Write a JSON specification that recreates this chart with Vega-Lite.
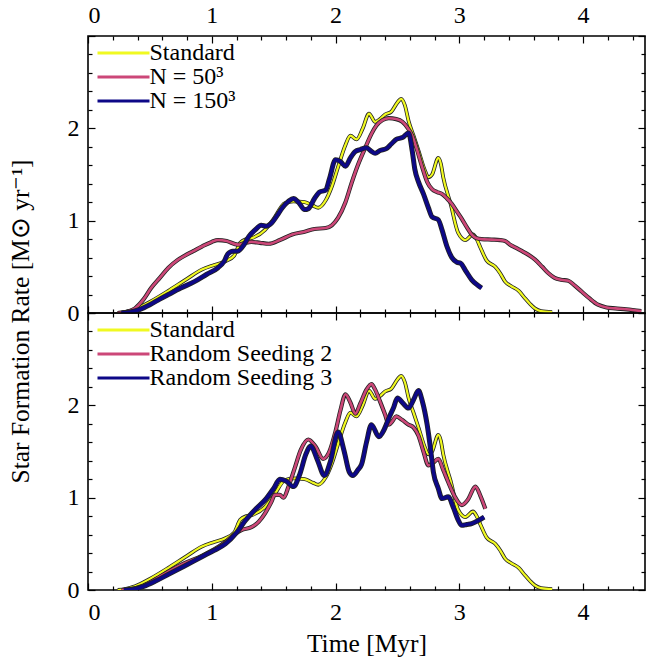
{
  "$schema": "https://vega.github.io/schema/vega-lite/v6.json",
  "padding": {"left": 7, "top": 2, "right": 5, "bottom": 2},
  "background": "white",
  "config": {
    "view": {"stroke": "black", "strokeWidth": 1.6},
    "font": "Liberation Serif",
    "axis": {"grid": false, "domain": false, "tickColor": "black", "tickWidth": 1.2, "labelFont": "Liberation Serif", "labelFontSize": 24, "labelColor": "black", "titleFont": "Liberation Serif", "titleFontSize": 25.5, "titleFontWeight": "normal", "titleColor": "black"},
    "legend": {"labelFont": "Liberation Serif", "labelFontSize": 24, "labelColor": "black", "labelLimit": 400, "title": null, "orient": "none", "legendX": 23.5, "padding": 0, "symbolType": "M-6.5,0H6.5", "symbolSize": 64, "symbolStrokeWidth": 3, "labelOffset": 14, "rowPadding": -3}
  },
  "datasets": {
    "sfr": [
      {"s":"Standard","t":0.24,"v":0},{"s":"Standard","t":0.30,"v":0.01},{"s":"Standard","t":0.38,"v":0.04},{"s":"Standard","t":0.5,"v":0.12},{"s":"Standard","t":0.65,"v":0.24},{"s":"Standard","t":0.8,"v":0.37},{"s":"Standard","t":0.92,"v":0.47},{"s":"Standard","t":1.02,"v":0.52},{"s":"Standard","t":1.11,"v":0.56},{"s":"Standard","t":1.18,"v":0.62},{"s":"Standard","t":1.23,"v":0.76},{"s":"Standard","t":1.28,"v":0.8},{"s":"Standard","t":1.32,"v":0.81},{"s":"Standard","t":1.43,"v":0.9},{"s":"Standard","t":1.5,"v":1.02},{"s":"Standard","t":1.59,"v":1.19},{"s":"Standard","t":1.66,"v":1.21},{"s":"Standard","t":1.75,"v":1.2},{"s":"Standard","t":1.82,"v":1.16},{"s":"Standard","t":1.86,"v":1.14},{"s":"Standard","t":1.92,"v":1.22},{"s":"Standard","t":1.97,"v":1.37},{"s":"Standard","t":2.02,"v":1.58},{"s":"Standard","t":2.08,"v":1.82},{"s":"Standard","t":2.12,"v":1.92},{"s":"Standard","t":2.17,"v":1.88},{"s":"Standard","t":2.22,"v":2.0},{"s":"Standard","t":2.27,"v":2.16},{"s":"Standard","t":2.32,"v":2.07},{"s":"Standard","t":2.36,"v":2.1},{"s":"Standard","t":2.40,"v":2.15},{"s":"Standard","t":2.45,"v":2.18},{"s":"Standard","t":2.5,"v":2.28},{"s":"Standard","t":2.53,"v":2.32},{"s":"Standard","t":2.56,"v":2.25},{"s":"Standard","t":2.59,"v":2.08},{"s":"Standard","t":2.63,"v":1.92},{"s":"Standard","t":2.67,"v":1.76},{"s":"Standard","t":2.72,"v":1.55},{"s":"Standard","t":2.75,"v":1.47},{"s":"Standard","t":2.78,"v":1.5},{"s":"Standard","t":2.83,"v":1.68},{"s":"Standard","t":2.85,"v":1.62},{"s":"Standard","t":2.87,"v":1.47},{"s":"Standard","t":2.93,"v":1.18},{"s":"Standard","t":2.99,"v":0.87},{"s":"Standard","t":3.05,"v":0.79},{"s":"Standard","t":3.11,"v":0.85},{"s":"Standard","t":3.14,"v":0.8},{"s":"Standard","t":3.17,"v":0.71},{"s":"Standard","t":3.22,"v":0.57},{"s":"Standard","t":3.29,"v":0.5},{"s":"Standard","t":3.33,"v":0.43},{"s":"Standard","t":3.37,"v":0.34},{"s":"Standard","t":3.42,"v":0.29},{"s":"Standard","t":3.48,"v":0.24},{"s":"Standard","t":3.53,"v":0.16},{"s":"Standard","t":3.57,"v":0.1},{"s":"Standard","t":3.61,"v":0.05},{"s":"Standard","t":3.66,"v":0.02},{"s":"Standard","t":3.75,"v":0.01},
      {"s":"N = 50³","t":0.24,"v":0},{"s":"N = 50³","t":0.30,"v":0.01},{"s":"N = 50³","t":0.38,"v":0.05},{"s":"N = 50³","t":0.45,"v":0.15},{"s":"N = 50³","t":0.51,"v":0.27},{"s":"N = 50³","t":0.58,"v":0.38},{"s":"N = 50³","t":0.65,"v":0.49},{"s":"N = 50³","t":0.72,"v":0.57},{"s":"N = 50³","t":0.78,"v":0.62},{"s":"N = 50³","t":0.85,"v":0.67},{"s":"N = 50³","t":0.92,"v":0.72},{"s":"N = 50³","t":1.0,"v":0.77},{"s":"N = 50³","t":1.05,"v":0.79},{"s":"N = 50³","t":1.12,"v":0.78},{"s":"N = 50³","t":1.21,"v":0.74},{"s":"N = 50³","t":1.27,"v":0.76},{"s":"N = 50³","t":1.32,"v":0.77},{"s":"N = 50³","t":1.39,"v":0.76},{"s":"N = 50³","t":1.46,"v":0.75},{"s":"N = 50³","t":1.55,"v":0.79},{"s":"N = 50³","t":1.65,"v":0.85},{"s":"N = 50³","t":1.75,"v":0.88},{"s":"N = 50³","t":1.83,"v":0.91},{"s":"N = 50³","t":1.92,"v":0.92},{"s":"N = 50³","t":1.97,"v":0.95},{"s":"N = 50³","t":2.02,"v":1.03},{"s":"N = 50³","t":2.08,"v":1.2},{"s":"N = 50³","t":2.13,"v":1.41},{"s":"N = 50³","t":2.18,"v":1.6},{"s":"N = 50³","t":2.24,"v":1.79},{"s":"N = 50³","t":2.29,"v":1.94},{"s":"N = 50³","t":2.33,"v":2.03},{"s":"N = 50³","t":2.38,"v":2.09},{"s":"N = 50³","t":2.43,"v":2.11},{"s":"N = 50³","t":2.49,"v":2.1},{"s":"N = 50³","t":2.54,"v":2.07},{"s":"N = 50³","t":2.58,"v":2.01},{"s":"N = 50³","t":2.62,"v":1.92},{"s":"N = 50³","t":2.66,"v":1.76},{"s":"N = 50³","t":2.70,"v":1.58},{"s":"N = 50³","t":2.74,"v":1.42},{"s":"N = 50³","t":2.78,"v":1.34},{"s":"N = 50³","t":2.82,"v":1.31},{"s":"N = 50³","t":2.86,"v":1.29},{"s":"N = 50³","t":2.90,"v":1.24},{"s":"N = 50³","t":2.94,"v":1.18},{"s":"N = 50³","t":2.98,"v":1.1},{"s":"N = 50³","t":3.02,"v":1.02},{"s":"N = 50³","t":3.06,"v":0.93},{"s":"N = 50³","t":3.10,"v":0.85},{"s":"N = 50³","t":3.14,"v":0.81},{"s":"N = 50³","t":3.18,"v":0.8},{"s":"N = 50³","t":3.26,"v":0.795},{"s":"N = 50³","t":3.33,"v":0.79},{"s":"N = 50³","t":3.37,"v":0.78},{"s":"N = 50³","t":3.41,"v":0.74},{"s":"N = 50³","t":3.45,"v":0.71},{"s":"N = 50³","t":3.52,"v":0.66},{"s":"N = 50³","t":3.57,"v":0.62},{"s":"N = 50³","t":3.61,"v":0.58},{"s":"N = 50³","t":3.67,"v":0.5},{"s":"N = 50³","t":3.72,"v":0.43},{"s":"N = 50³","t":3.77,"v":0.38},{"s":"N = 50³","t":3.82,"v":0.36},{"s":"N = 50³","t":3.88,"v":0.35},{"s":"N = 50³","t":3.93,"v":0.3},{"s":"N = 50³","t":3.99,"v":0.23},{"s":"N = 50³","t":4.05,"v":0.16},{"s":"N = 50³","t":4.12,"v":0.09},{"s":"N = 50³","t":4.19,"v":0.06},{"s":"N = 50³","t":4.26,"v":0.05},{"s":"N = 50³","t":4.35,"v":0.04},{"s":"N = 50³","t":4.47,"v":0.02},
      {"s":"N = 150³","t":0.27,"v":0},{"s":"N = 150³","t":0.34,"v":0.01},{"s":"N = 150³","t":0.42,"v":0.04},{"s":"N = 150³","t":0.5,"v":0.09},{"s":"N = 150³","t":0.58,"v":0.15},{"s":"N = 150³","t":0.65,"v":0.2},{"s":"N = 150³","t":0.75,"v":0.27},{"s":"N = 150³","t":0.86,"v":0.34},{"s":"N = 150³","t":0.96,"v":0.42},{"s":"N = 150³","t":1.05,"v":0.49},{"s":"N = 150³","t":1.1,"v":0.56},{"s":"N = 150³","t":1.13,"v":0.64},{"s":"N = 150³","t":1.17,"v":0.67},{"s":"N = 150³","t":1.21,"v":0.67},{"s":"N = 150³","t":1.26,"v":0.74},{"s":"N = 150³","t":1.30,"v":0.83},{"s":"N = 150³","t":1.35,"v":0.9},{"s":"N = 150³","t":1.40,"v":0.95},{"s":"N = 150³","t":1.44,"v":0.94},{"s":"N = 150³","t":1.48,"v":0.97},{"s":"N = 150³","t":1.53,"v":1.06},{"s":"N = 150³","t":1.57,"v":1.14},{"s":"N = 150³","t":1.62,"v":1.21},{"s":"N = 150³","t":1.66,"v":1.24},{"s":"N = 150³","t":1.7,"v":1.2},{"s":"N = 150³","t":1.75,"v":1.12},{"s":"N = 150³","t":1.78,"v":1.13},{"s":"N = 150³","t":1.83,"v":1.24},{"s":"N = 150³","t":1.87,"v":1.31},{"s":"N = 150³","t":1.92,"v":1.33},{"s":"N = 150³","t":1.95,"v":1.45},{"s":"N = 150³","t":2.0,"v":1.66},{"s":"N = 150³","t":2.04,"v":1.64},{"s":"N = 150³","t":2.08,"v":1.59},{"s":"N = 150³","t":2.12,"v":1.68},{"s":"N = 150³","t":2.16,"v":1.75},{"s":"N = 150³","t":2.2,"v":1.77},{"s":"N = 150³","t":2.25,"v":1.79},{"s":"N = 150³","t":2.29,"v":1.75},{"s":"N = 150³","t":2.32,"v":1.73},{"s":"N = 150³","t":2.36,"v":1.76},{"s":"N = 150³","t":2.41,"v":1.78},{"s":"N = 150³","t":2.45,"v":1.83},{"s":"N = 150³","t":2.49,"v":1.88},{"s":"N = 150³","t":2.54,"v":1.9},{"s":"N = 150³","t":2.59,"v":1.95},{"s":"N = 150³","t":2.62,"v":1.75},{"s":"N = 150³","t":2.64,"v":1.56},{"s":"N = 150³","t":2.67,"v":1.42},{"s":"N = 150³","t":2.71,"v":1.29},{"s":"N = 150³","t":2.75,"v":1.14},{"s":"N = 150³","t":2.78,"v":1.04},{"s":"N = 150³","t":2.83,"v":1.01},{"s":"N = 150³","t":2.86,"v":0.9},{"s":"N = 150³","t":2.9,"v":0.72},{"s":"N = 150³","t":2.94,"v":0.6},{"s":"N = 150³","t":2.98,"v":0.55},{"s":"N = 150³","t":3.01,"v":0.54},{"s":"N = 150³","t":3.05,"v":0.46},{"s":"N = 150³","t":3.1,"v":0.36},{"s":"N = 150³","t":3.14,"v":0.31},{"s":"N = 150³","t":3.18,"v":0.27},
      {"s":"Random Seeding 2","t":0.27,"v":0},{"s":"Random Seeding 2","t":0.35,"v":0.01},{"s":"Random Seeding 2","t":0.45,"v":0.05},{"s":"Random Seeding 2","t":0.55,"v":0.12},{"s":"Random Seeding 2","t":0.65,"v":0.2},{"s":"Random Seeding 2","t":0.78,"v":0.29},{"s":"Random Seeding 2","t":0.92,"v":0.37},{"s":"Random Seeding 2","t":1.02,"v":0.44},{"s":"Random Seeding 2","t":1.11,"v":0.52},{"s":"Random Seeding 2","t":1.18,"v":0.6},{"s":"Random Seeding 2","t":1.24,"v":0.65},{"s":"Random Seeding 2","t":1.32,"v":0.68},{"s":"Random Seeding 2","t":1.38,"v":0.74},{"s":"Random Seeding 2","t":1.43,"v":0.83},{"s":"Random Seeding 2","t":1.48,"v":0.95},{"s":"Random Seeding 2","t":1.51,"v":1.03},{"s":"Random Seeding 2","t":1.55,"v":1.03},{"s":"Random Seeding 2","t":1.58,"v":1.0},{"s":"Random Seeding 2","t":1.62,"v":1.12},{"s":"Random Seeding 2","t":1.67,"v":1.32},{"s":"Random Seeding 2","t":1.72,"v":1.52},{"s":"Random Seeding 2","t":1.78,"v":1.63},{"s":"Random Seeding 2","t":1.84,"v":1.55},{"s":"Random Seeding 2","t":1.9,"v":1.42},{"s":"Random Seeding 2","t":1.95,"v":1.5},{"s":"Random Seeding 2","t":2.0,"v":1.72},{"s":"Random Seeding 2","t":2.04,"v":1.95},{"s":"Random Seeding 2","t":2.08,"v":2.12},{"s":"Random Seeding 2","t":2.12,"v":2.03},{"s":"Random Seeding 2","t":2.16,"v":1.91},{"s":"Random Seeding 2","t":2.2,"v":2.02},{"s":"Random Seeding 2","t":2.25,"v":2.17},{"s":"Random Seeding 2","t":2.29,"v":2.23},{"s":"Random Seeding 2","t":2.32,"v":2.17},{"s":"Random Seeding 2","t":2.36,"v":2.04},{"s":"Random Seeding 2","t":2.4,"v":1.9},{"s":"Random Seeding 2","t":2.43,"v":1.79},{"s":"Random Seeding 2","t":2.46,"v":1.83},{"s":"Random Seeding 2","t":2.49,"v":1.88},{"s":"Random Seeding 2","t":2.54,"v":1.84},{"s":"Random Seeding 2","t":2.59,"v":1.79},{"s":"Random Seeding 2","t":2.63,"v":1.76},{"s":"Random Seeding 2","t":2.67,"v":1.67},{"s":"Random Seeding 2","t":2.71,"v":1.5},{"s":"Random Seeding 2","t":2.75,"v":1.35},{"s":"Random Seeding 2","t":2.79,"v":1.38},{"s":"Random Seeding 2","t":2.83,"v":1.42},{"s":"Random Seeding 2","t":2.87,"v":1.3},{"s":"Random Seeding 2","t":2.91,"v":1.17},{"s":"Random Seeding 2","t":2.96,"v":1.02},{"s":"Random Seeding 2","t":3.02,"v":0.92},{"s":"Random Seeding 2","t":3.07,"v":0.98},{"s":"Random Seeding 2","t":3.13,"v":1.12},{"s":"Random Seeding 2","t":3.17,"v":1.02},{"s":"Random Seeding 2","t":3.21,"v":0.88},
      {"s":"Random Seeding 3","t":0.29,"v":0},{"s":"Random Seeding 3","t":0.37,"v":0.01},{"s":"Random Seeding 3","t":0.45,"v":0.04},{"s":"Random Seeding 3","t":0.55,"v":0.1},{"s":"Random Seeding 3","t":0.65,"v":0.17},{"s":"Random Seeding 3","t":0.78,"v":0.26},{"s":"Random Seeding 3","t":0.92,"v":0.36},{"s":"Random Seeding 3","t":1.02,"v":0.43},{"s":"Random Seeding 3","t":1.11,"v":0.5},{"s":"Random Seeding 3","t":1.2,"v":0.62},{"s":"Random Seeding 3","t":1.27,"v":0.75},{"s":"Random Seeding 3","t":1.35,"v":0.87},{"s":"Random Seeding 3","t":1.44,"v":0.99},{"s":"Random Seeding 3","t":1.5,"v":1.1},{"s":"Random Seeding 3","t":1.55,"v":1.2},{"s":"Random Seeding 3","t":1.6,"v":1.18},{"s":"Random Seeding 3","t":1.66,"v":1.12},{"s":"Random Seeding 3","t":1.71,"v":1.25},{"s":"Random Seeding 3","t":1.76,"v":1.47},{"s":"Random Seeding 3","t":1.8,"v":1.56},{"s":"Random Seeding 3","t":1.85,"v":1.42},{"s":"Random Seeding 3","t":1.91,"v":1.24},{"s":"Random Seeding 3","t":1.96,"v":1.4},{"s":"Random Seeding 3","t":2.02,"v":1.71},{"s":"Random Seeding 3","t":2.07,"v":1.5},{"s":"Random Seeding 3","t":2.11,"v":1.28},{"s":"Random Seeding 3","t":2.14,"v":1.24},{"s":"Random Seeding 3","t":2.18,"v":1.3},{"s":"Random Seeding 3","t":2.21,"v":1.36},{"s":"Random Seeding 3","t":2.25,"v":1.6},{"s":"Random Seeding 3","t":2.29,"v":1.79},{"s":"Random Seeding 3","t":2.35,"v":1.66},{"s":"Random Seeding 3","t":2.39,"v":1.73},{"s":"Random Seeding 3","t":2.43,"v":1.86},{"s":"Random Seeding 3","t":2.47,"v":1.98},{"s":"Random Seeding 3","t":2.5,"v":2.08},{"s":"Random Seeding 3","t":2.54,"v":2.03},{"s":"Random Seeding 3","t":2.59,"v":1.97},{"s":"Random Seeding 3","t":2.63,"v":2.06},{"s":"Random Seeding 3","t":2.67,"v":2.16},{"s":"Random Seeding 3","t":2.7,"v":2.05},{"s":"Random Seeding 3","t":2.74,"v":1.79},{"s":"Random Seeding 3","t":2.77,"v":1.5},{"s":"Random Seeding 3","t":2.79,"v":1.28},{"s":"Random Seeding 3","t":2.83,"v":1.1},{"s":"Random Seeding 3","t":2.86,"v":0.99},{"s":"Random Seeding 3","t":2.91,"v":1.01},{"s":"Random Seeding 3","t":2.95,"v":0.9},{"s":"Random Seeding 3","t":2.99,"v":0.76},{"s":"Random Seeding 3","t":3.02,"v":0.7},{"s":"Random Seeding 3","t":3.06,"v":0.71},{"s":"Random Seeding 3","t":3.1,"v":0.72},{"s":"Random Seeding 3","t":3.15,"v":0.75},{"s":"Random Seeding 3","t":3.2,"v":0.79}
    ]
  },
  "data": {"name": "sfr"},
  "spacing": 0,
  "bounds": "flush",
  "resolve": {"scale": {"color": "independent"}, "legend": {"color": "independent"}},
  "vconcat": [
    {
      "width": 557, "height": 277,
      "resolve": {"axis": {"x": "independent", "y": "independent"}},
      "layer": [
        {"transform": [{"filter": "datum.s === 'Standard'"}],
         "mark": {"type": "line", "interpolate": "monotone", "color": "#222222", "strokeWidth": 3.8, "clip": true},
         "encoding": {
           "x": {"field": "t", "type": "quantitative", "scale": {"domain": [0, 4.5], "nice": false}, "axis": {"orient": "bottom", "values": [0,1,2,3,4], "labels": false, "tickSize": -7, "title": null}},
           "y": {"field": "v", "type": "quantitative", "scale": {"domain": [0, 3], "nice": false}, "axis": {"orient": "left", "values": [0,1,2,3], "labelExpr": "datum.value == 3 ? '' : datum.label", "tickSize": -7, "labelPadding": 16, "title": null}}}},
        {"transform": [{"filter": "datum.s === 'Standard'"}],
         "mark": {"type": "line", "interpolate": "monotone", "strokeWidth": 2.2, "clip": true},
         "encoding": {
           "x": {"field": "t", "type": "quantitative", "axis": {"orient": "top", "values": [0,1,2,3,4], "tickSize": -7, "labelPadding": 16, "title": null}},
           "y": {"field": "v", "type": "quantitative", "axis": {"orient": "right", "values": [0,1,2,3], "labels": false, "tickSize": -7, "title": null}},
           "color": {"field": "s", "type": "nominal", "scale": {"domain": ["Standard", "N = 50³", "N = 150³"], "range": ["#f0f921", "#cc4778", "#0d0887"]},
             "legend": {"legendY": 5}}}},
        {"transform": [{"filter": "datum.s === 'N = 50³'"}],
         "mark": {"type": "line", "interpolate": "monotone", "color": "#222222", "strokeWidth": 4.2, "clip": true},
         "encoding": {
           "x": {"field": "t", "type": "quantitative", "axis": {"orient": "bottom", "values": [0.2,0.4,0.6,0.8,1.2,1.4,1.6,1.8,2.2,2.4,2.6,2.8,3.2,3.4,3.6,3.8,4.2,4.4], "labels": false, "tickSize": -4, "title": null}},
           "y": {"field": "v", "type": "quantitative", "axis": {"orient": "left", "values": [0.2,0.4,0.6,0.8,1.2,1.4,1.6,1.8,2.2,2.4,2.6,2.8], "labels": false, "tickSize": -4, "title": null}}}},
        {"transform": [{"filter": "datum.s === 'N = 50³'"}],
         "mark": {"type": "line", "interpolate": "monotone", "strokeWidth": 2.6, "clip": true},
         "encoding": {
           "x": {"field": "t", "type": "quantitative", "axis": {"orient": "top", "values": [0.2,0.4,0.6,0.8,1.2,1.4,1.6,1.8,2.2,2.4,2.6,2.8,3.2,3.4,3.6,3.8,4.2,4.4], "labels": false, "tickSize": -4, "title": null}},
           "y": {"field": "v", "type": "quantitative", "axis": {"orient": "right", "values": [0.2,0.4,0.6,0.8,1.2,1.4,1.6,1.8,2.2,2.4,2.6,2.8], "labels": false, "tickSize": -4, "title": null}},
           "color": {"field": "s", "type": "nominal", "scale": {"domain": ["Standard", "N = 50³", "N = 150³"], "range": ["#f0f921", "#cc4778", "#0d0887"]},
             "legend": {"legendY": 5}}}},
        {"transform": [{"filter": "datum.s === 'N = 150³'"}],
         "mark": {"type": "line", "interpolate": "monotone", "color": "#222222", "strokeWidth": 5, "clip": true},
         "encoding": {
           "x": {"field": "t", "type": "quantitative", "axis": null},
           "y": {"field": "v", "type": "quantitative", "axis": null}}},
        {"transform": [{"filter": "datum.s === 'N = 150³'"}],
         "mark": {"type": "line", "interpolate": "monotone", "strokeWidth": 3.4, "clip": true},
         "encoding": {
           "x": {"field": "t", "type": "quantitative", "axis": null},
           "y": {"field": "v", "type": "quantitative", "axis": null},
           "color": {"field": "s", "type": "nominal", "scale": {"domain": ["Standard", "N = 50³", "N = 150³"], "range": ["#f0f921", "#cc4778", "#0d0887"]},
             "legend": {"legendY": 5}}}}
      ]
    },
    {
      "width": 557, "height": 277,
      "resolve": {"axis": {"x": "independent", "y": "independent"}},
      "layer": [
        {"transform": [{"filter": "datum.s === 'Standard'"}],
         "mark": {"type": "line", "interpolate": "monotone", "color": "#222222", "strokeWidth": 3.8, "clip": true},
         "encoding": {
           "x": {"field": "t", "type": "quantitative", "scale": {"domain": [0, 4.5], "nice": false}, "axis": {"orient": "bottom", "values": [0,1,2,3,4], "tickSize": -7, "labelPadding": 17, "title": "Time [Myr]", "titlePadding": 7}},
           "y": {"field": "v", "type": "quantitative", "scale": {"domain": [0, 3], "nice": false}, "axis": {"orient": "left", "values": [0,1,2,3], "labelExpr": "datum.value == 3 ? '' : datum.label", "tickSize": -7, "labelPadding": 16, "title": "Star Formation Rate [M⊙ yr⁻¹]", "titleY": 8, "titleX": -55}}}},
        {"transform": [{"filter": "datum.s === 'Standard'"}],
         "mark": {"type": "line", "interpolate": "monotone", "strokeWidth": 2.2, "clip": true},
         "encoding": {
           "x": {"field": "t", "type": "quantitative", "axis": {"orient": "top", "values": [0,1,2,3,4], "labels": false, "tickSize": -7, "title": null}},
           "y": {"field": "v", "type": "quantitative", "axis": {"orient": "right", "values": [0,1,2,3], "labels": false, "tickSize": -7, "title": null}},
           "color": {"field": "s", "type": "nominal", "scale": {"domain": ["Standard", "Random Seeding 2", "Random Seeding 3"], "range": ["#f0f921", "#cc4778", "#0d0887"]},
             "legend": {"legendY": 5}}}},
        {"transform": [{"filter": "datum.s === 'Random Seeding 2'"}],
         "mark": {"type": "line", "interpolate": "monotone", "color": "#222222", "strokeWidth": 4.2, "clip": true},
         "encoding": {
           "x": {"field": "t", "type": "quantitative", "axis": {"orient": "bottom", "values": [0.2,0.4,0.6,0.8,1.2,1.4,1.6,1.8,2.2,2.4,2.6,2.8,3.2,3.4,3.6,3.8,4.2,4.4], "labels": false, "tickSize": -4, "title": null}},
           "y": {"field": "v", "type": "quantitative", "axis": {"orient": "left", "values": [0.2,0.4,0.6,0.8,1.2,1.4,1.6,1.8,2.2,2.4,2.6,2.8], "labels": false, "tickSize": -4, "title": null}}}},
        {"transform": [{"filter": "datum.s === 'Random Seeding 2'"}],
         "mark": {"type": "line", "interpolate": "monotone", "strokeWidth": 2.6, "clip": true},
         "encoding": {
           "x": {"field": "t", "type": "quantitative", "axis": {"orient": "top", "values": [0.2,0.4,0.6,0.8,1.2,1.4,1.6,1.8,2.2,2.4,2.6,2.8,3.2,3.4,3.6,3.8,4.2,4.4], "labels": false, "tickSize": -4, "title": null}},
           "y": {"field": "v", "type": "quantitative", "axis": {"orient": "right", "values": [0.2,0.4,0.6,0.8,1.2,1.4,1.6,1.8,2.2,2.4,2.6,2.8], "labels": false, "tickSize": -4, "title": null}},
           "color": {"field": "s", "type": "nominal", "scale": {"domain": ["Standard", "Random Seeding 2", "Random Seeding 3"], "range": ["#f0f921", "#cc4778", "#0d0887"]},
             "legend": {"legendY": 5}}}},
        {"transform": [{"filter": "datum.s === 'Random Seeding 3'"}],
         "mark": {"type": "line", "interpolate": "monotone", "color": "#222222", "strokeWidth": 5, "clip": true},
         "encoding": {
           "x": {"field": "t", "type": "quantitative", "axis": null},
           "y": {"field": "v", "type": "quantitative", "axis": null}}},
        {"transform": [{"filter": "datum.s === 'Random Seeding 3'"}],
         "mark": {"type": "line", "interpolate": "monotone", "strokeWidth": 3.4, "clip": true},
         "encoding": {
           "x": {"field": "t", "type": "quantitative", "axis": null},
           "y": {"field": "v", "type": "quantitative", "axis": null},
           "color": {"field": "s", "type": "nominal", "scale": {"domain": ["Standard", "Random Seeding 2", "Random Seeding 3"], "range": ["#f0f921", "#cc4778", "#0d0887"]},
             "legend": {"legendY": 5}}}}
      ]
    }
  ]
}
